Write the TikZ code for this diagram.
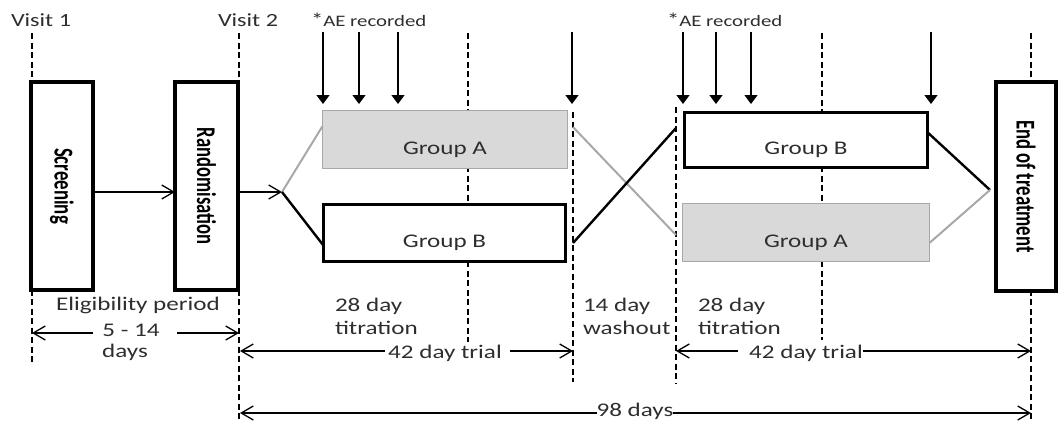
\documentclass[tikz,border=0pt]{standalone}
\usepackage{fontspec}
\setmainfont{Carlito}[FakeStretch=1.3]
\newfontfamily\rotfont{Carlito}
\usetikzlibrary{arrows.meta,calc}
\definecolor{gfill}{HTML}{D9D9D9}
\definecolor{gline}{HTML}{A8A8A8}
\definecolor{txt}{HTML}{2E2E2E}
\begin{document}
\begin{tikzpicture}[x=1pt,y=-1pt,
  every node/.style={inner sep=0pt, outer sep=0pt, text=txt},
  lbl/.style={font=\fontsize{19.3}{23}\selectfont, anchor=base},
  visitlbl/.style={font=\fontsize{18.6}{22}\selectfont, anchor=base west},
  aelbl/.style={font=\fontsize{16}{19}\selectfont, anchor=base west},
  tallbox/.style={draw=black, line width=3.5pt, fill=white, minimum height=208pt, text=black},
  grpA/.style={draw=gline, line width=1.6pt, fill=gfill, font=\fontsize{19.3}{23}\selectfont, text height=29.5pt, text depth=0pt},
  grpB/.style={draw=black, line width=3pt, fill=white, font=\fontsize{19.3}{23}\selectfont, text height=29.5pt, text depth=0pt},
  dashline/.style={line width=2.2pt, dash pattern=on 6pt off 3.5pt},
  aearrow/.style={line width=1.3pt, -{Triangle[length=9pt,width=13pt]}},
  barb/.style={line width=1.3pt, -{Straight Barb[length=12pt,width=14pt]}},
  blackline/.style={line width=2.4pt, black},
  grayline/.style={line width=2pt, gline}
]
\useasboundingbox (0,0) rectangle (1061,423);

% vertical dashed timeline markers
\draw[dashline] (32,33) -- (32,365);
\draw[dashline] (239,33) -- (239,420);
\draw[dashline] (468,33) -- (468,342);
\draw[dashline] (573,112) -- (573,382);
\draw[dashline] (676,107) -- (676,383);
\draw[dashline] (822,33) -- (822,340);
\draw[dashline] (1031,33) -- (1031,420);

% visit labels
\node[visitlbl] (visit1) at (11,26) {Visit 1};
\node[visitlbl] (visit2) at (218,26) {Visit 2};
\node[aelbl] (ae1) at (311,26) {\raisebox{-1pt}{\fontsize{19}{19}\selectfont *}AE recorded};
\node[aelbl] (ae2) at (667,26) {\raisebox{-1pt}{\fontsize{19}{19}\selectfont *}AE recorded};

% tall boxes
\node[tallbox, minimum width=62pt] (scr) at (62,186)
  {\rotatebox{-90}{\scalebox{1}[1.45]{\rotfont\bfseries\fontsize{18.8}{22}\selectfont Screening}}};
\node[tallbox, minimum width=63pt] (rand) at (206.5,186)
  {\rotatebox{-90}{\scalebox{1}[1.45]{\rotfont\bfseries\fontsize{18.6}{22}\selectfont Randomisation}}};
\node[tallbox, minimum width=60pt, minimum height=209pt] (eot) at (1026,186.5)
  {\rotatebox{-90}{\scalebox{1}[1.45]{\rotfont\bfseries\fontsize{18.7}{22}\selectfont End of treatment}}};

% group boxes
\node[grpA, minimum width=245pt, minimum height=58pt] (gA1) at (445,139.5) {Group A};
\node[grpB, minimum width=242pt, minimum height=57pt] (gB1) at (444.5,233) {Group B};
\node[grpB, minimum width=243pt, minimum height=55pt] (gB2) at (806,140) {Group B};
\node[grpA, minimum width=247pt, minimum height=58pt] (gA2) at (806,232.5) {Group A};

% split / merge points
\coordinate (split) at (282,192);
\coordinate (merge) at (990,190);
\coordinate (xTL) at (573,127);
\coordinate (xBL) at (573,243);
\coordinate (xTR) at (676,128);
\coordinate (xBR) at (676,235);

% flow arrows
\draw[barb] ([yshift=-6pt]scr.east) -- ([yshift=-6pt]rand.west);
\draw[barb] ([yshift=-6pt]rand.east) -- (split);

% randomisation split
\draw[grayline] (split) -- ($(gA1.north west)!0.27!(gA1.south west)$);
\draw[blackline] (split) -- ($(gB1.north west)!0.72!(gB1.south west)$);

% crossover
\draw[grayline] (xTL) -- (xBR);
\draw[blackline] (xBL) -- (xTR);

% merge into end of treatment
\draw[blackline] ($(gB2.north east)!0.36!(gB2.south east)$) -- (merge);
\draw[grayline] ($(gA2.north east)!0.68!(gA2.south east)$) -- (merge);

% AE recorded arrows
\foreach \x [count=\i] in {323,359,398,572,683,716,751,931} {
  \coordinate (aeT\i) at (\x,32);
  \coordinate (aeB\i) at (\x,104);
  \draw[aearrow] (aeT\i) -- (aeB\i);
}

% bottom labels
\node[lbl] (elig) at (138,310) {Eligibility period};
\node[lbl] (d514) at (131,336) {5 - 14};
\node[lbl] (days) at (125,357) {days};
\node[lbl, anchor=base west, align=left] (tit1) at (335,334) {28 day\\titration};
\node[lbl, anchor=base west, align=left] (wash) at (583,334) {14 day\\washout};
\node[lbl, anchor=base west, align=left] (tit2) at (698,334) {28 day\\titration};
\node[lbl] (trial1) at (445,358) {42 day trial};
\node[lbl] (trial2) at (806,358) {42 day trial};
\node[lbl] (d98) at (635,416) {98 days};

% eligibility arrows
\coordinate (eL) at (32,333);
\coordinate (eLi) at (93,333);
\coordinate (eRi) at (177,333);
\coordinate (eR) at (239,333);
\draw[barb] (eLi) -- (eL);
\draw[barb] (eRi) -- (eR);

% first 42 day trial
\coordinate (t1L) at (240,351);
\coordinate (t1Li) at (385,351);
\coordinate (t1Ri) at (510,351);
\coordinate (t1R) at (573,351);
\draw[barb] (t1Li) -- (t1L);
\draw[barb] (t1Ri) -- (t1R);

% second 42 day trial
\coordinate (t2L) at (676,351);
\coordinate (t2Li) at (738,351);
\coordinate (t2Ri) at (863,351);
\coordinate (t2R) at (1031,351);
\draw[barb] (t2Li) -- (t2L);
\draw[barb] (t2Ri) -- (t2R);

% 98 days
\coordinate (nL) at (240,413);
\coordinate (nLi) at (597,413);
\coordinate (nRi) at (673,413);
\coordinate (nR) at (1031,413);
\draw[barb] (nLi) -- (nL);
\draw[barb] (nRi) -- (nR);
\end{tikzpicture}
\end{document}
